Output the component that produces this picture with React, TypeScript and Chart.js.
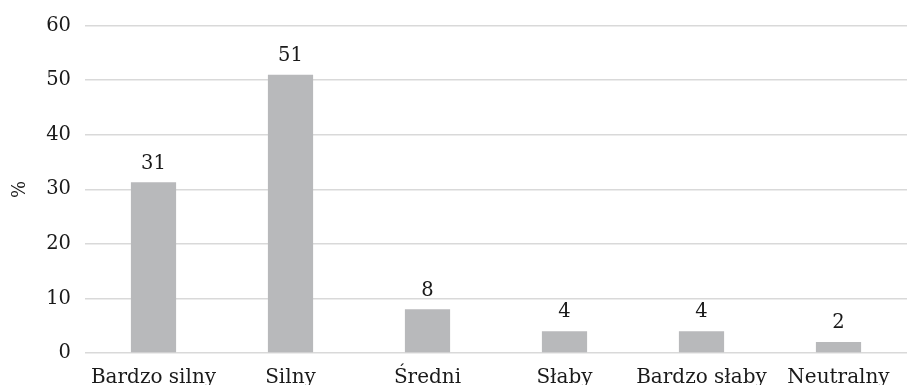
import React, { useEffect, useRef } from "react";
import { Chart, registerables } from "chart.js";

Chart.register(...registerables);

const categories = ["Bardzo silny", "Silny", "Średni", "Słaby", "Bardzo słaby", "Neutralny"];
const values = [31.3, 51, 8, 4, 4, 2];
const valueLabels = ["31", "51", "8", "4", "4", "2"];
const yTicks = [0, 10, 20, 30, 40, 50, 60];
const yTitle = "%";

const FONT = "'DejaVu Serif', serif";
const TEXT = "#1a1a1a";

const labelPlugin = {
  id: "barLabels",
  afterDatasetsDraw(chart: any) {
    const ctx = chart.ctx;
    const meta = chart.getDatasetMeta(0);
    ctx.save();
    ctx.font = `19.5px ${FONT}`;
    ctx.fillStyle = TEXT;
    ctx.textAlign = "center";
    ctx.textBaseline = "bottom";
    meta.data.forEach((el: any, i: number) => {
      ctx.fillText(valueLabels[i], el.x, el.y - 9);
    });
    ctx.restore();
  },
};

export default function App() {
  const ref = useRef<HTMLCanvasElement>(null);
  useEffect(() => {
    if (!ref.current) return;
    const chart = new Chart(ref.current, {
      type: "bar",
      data: {
        labels: categories,
        datasets: [
          {
            data: values,
            backgroundColor: "#b8b9bb",
            categoryPercentage: 1,
            barPercentage: 0.33,
          },
        ],
      },
      options: {
        responsive: false,
        animation: false,
        devicePixelRatio: 1,
        layout: { padding: { top: 25, right: 0, left: 0, bottom: 0 } },
        plugins: { legend: { display: false }, tooltip: { enabled: false } },
        scales: {
          x: {
            grid: { display: false },
            border: { display: false },
            ticks: { color: TEXT, font: { family: FONT, size: 20 }, padding: 5, maxRotation: 0, autoSkip: false },
            afterFit(scale: any) {
              scale.height = 32;
            },
          },
          y: {
            min: 0,
            max: 60,
            afterBuildTicks(scale: any) {
              scale.ticks = yTicks.map((v) => ({ value: v }));
            },
            grid: { color: "#d9d9d9", lineWidth: 1.5, drawTicks: false },
            border: { display: false },
            ticks: { color: TEXT, font: { family: FONT, size: 19.5 }, padding: 14 },
            title: { display: true, text: yTitle, color: TEXT, font: { family: FONT, size: 18 }, padding: { top: 10, bottom: 0 } },
            afterFit(scale: any) {
              scale.width = 85;
            },
          },
        },
      },
      plugins: [labelPlugin],
    });
    return () => chart.destroy();
  }, []);
  return (
    <div style={{ position: "fixed", left: 0, top: 0, width: 907, height: 385, overflow: "hidden", background: "#fff" }}>
      <canvas ref={ref} width={907} height={385} />
    </div>
  );
}
